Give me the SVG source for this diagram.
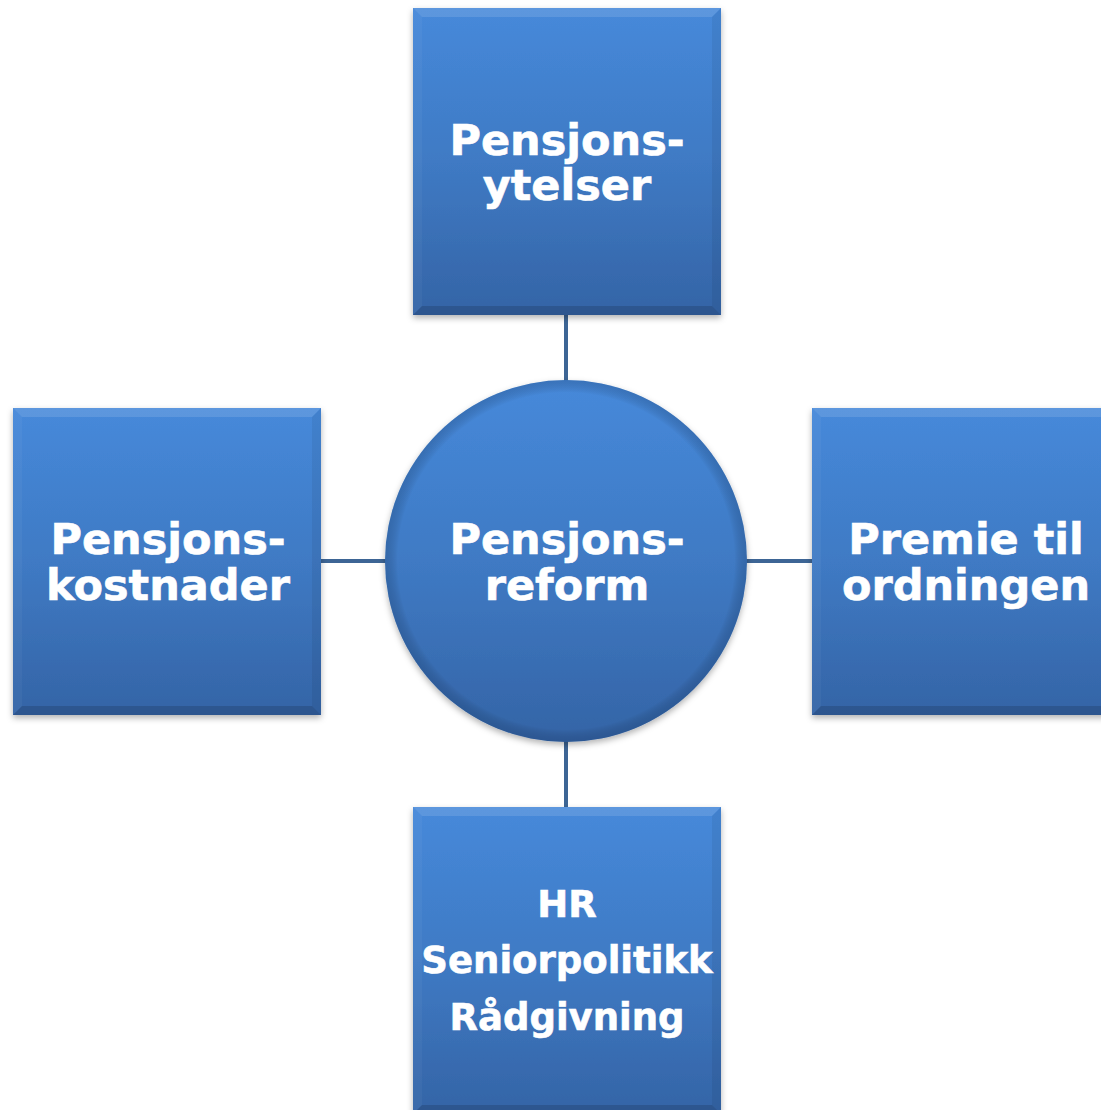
<svg xmlns="http://www.w3.org/2000/svg" width="1101" height="1110" viewBox="0 0 1101 1110">
<defs>
<linearGradient id="gBox" x1="0" y1="0" x2="0" y2="1">
<stop offset="0" stop-color="#4689da"/>
<stop offset="0.5" stop-color="#3f7ac4"/>
<stop offset="1" stop-color="#3464a6"/>
</linearGradient>
<linearGradient id="gCirc" x1="0" y1="0" x2="0" y2="1">
<stop offset="0" stop-color="#4689da"/>
<stop offset="0.5" stop-color="#3f7ac4"/>
<stop offset="1" stop-color="#3464a6"/>
</linearGradient>
<radialGradient id="gRing" cx="0.5" cy="0.5" r="0.5">
<stop offset="0.93" stop-color="#000" stop-opacity="0"/>
<stop offset="1" stop-color="#10305a" stop-opacity="0.25"/>
</radialGradient>
<filter id="sh" x="-10%" y="-10%" width="120%" height="125%">
<feDropShadow dx="0" dy="3" stdDeviation="3" flood-color="#000" flood-opacity="0.3"/>
</filter>
<g id="bevel">
<polygon points="0,0 308,0 299,9 9,9" fill="#ffffff" fill-opacity="0.12"/>
<polygon points="0,0 9,9 9,298 0,307" fill="#ffffff" fill-opacity="0.04"/>
<polygon points="308,0 308,307 299,298 299,9" fill="#000000" fill-opacity="0.06"/>
<polygon points="0,307 308,307 299,298 9,298" fill="#000000" fill-opacity="0.14"/>
</g>
</defs>
<style>
.box{fill:url(#gBox);filter:url(#sh);}
.lbl{font-family:"DejaVu Sans","Verdana",sans-serif;font-weight:bold;fill:#ffffff;stroke:#ffffff;stroke-width:0.6;text-anchor:middle;font-size:43px;}
.sm{font-size:37px;}
.con{stroke:#3d6595;stroke-width:4;fill:none;}
</style>
<g id="connectors">
<line class="con" x1="566" y1="314" x2="566" y2="384"/>
<line class="con" x1="566" y1="738" x2="566" y2="809"/>
<line class="con" x1="319" y1="561" x2="387" y2="561"/>
<line class="con" x1="745" y1="561" x2="814" y2="561"/>
</g>
<g id="node-top">
<rect class="box" x="413" y="8" width="308" height="307"/>
<use href="#bevel" x="413" y="8"/>
<text class="lbl" x="567" y="155">Pensjons-</text>
<text class="lbl" x="567" y="200">ytelser</text>
</g>
<g id="node-left">
<rect class="box" x="13" y="408" width="308" height="307"/>
<use href="#bevel" x="13" y="408"/>
<text class="lbl" x="168" y="554">Pensjons-</text>
<text class="lbl" x="168" y="600">kostnader</text>
</g>
<g id="node-right">
<rect class="box" x="812" y="408" width="308" height="307"/>
<use href="#bevel" x="812" y="408"/>
<text class="lbl" x="966" y="554">Premie til</text>
<text class="lbl" x="966" y="600">ordningen</text>
</g>
<g id="node-bottom">
<rect class="box" x="413" y="807" width="308" height="307"/>
<use href="#bevel" x="413" y="807"/>
<text class="lbl sm" x="567" y="917">HR</text>
<text class="lbl sm" x="567" y="973">Seniorpolitikk</text>
<text class="lbl sm" x="567" y="1030">Rådgivning</text>
</g>
<g id="node-center">
<circle cx="566" cy="561" r="181" fill="url(#gCirc)" filter="url(#sh)"/>
<circle cx="566" cy="561" r="181" fill="url(#gRing)"/>
<text class="lbl" x="567" y="554">Pensjons-</text>
<text class="lbl" x="567" y="600">reform</text>
</g>
</svg>
